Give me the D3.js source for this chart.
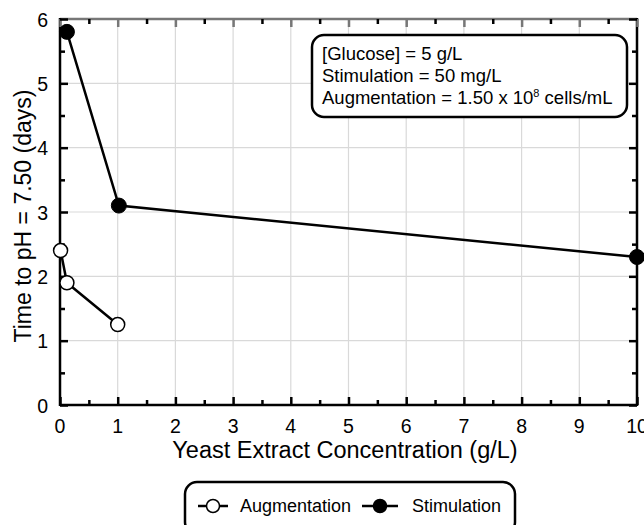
<!DOCTYPE html>
<html><head><meta charset="utf-8">
<script src="https://cdn.jsdelivr.net/npm/d3@7"></script>
<style>body{margin:0;background:#fff}svg{display:block;font-family:"Liberation Sans",Arial,sans-serif}</style>
</head><body>
<svg id="c" width="644" height="525"></svg>
<script>
const stimX = [0.12, 1.02, 10];
const stimY = [5.8, 3.1, 2.3];
const augX = [0.01, 0.12, 1.0];
const augY = [2.4, 1.9, 1.25];
const xTicks = [0,1,2,3,4,5,6,7,8,9,10];
const yTicks = [0,1,2,3,4,5,6];
const infoLines = ["[Glucose] = 5 g/L", "Stimulation = 50 mg/L", "Augmentation = 1.50 x 10"];
const legendNames = ["Augmentation", "Stimulation"];

const svg = d3.select("#c");
const L = 60, R = 637, T = 19, B = 405;
const x = d3.scaleLinear().domain([0,10]).range([L,R]);
const y = d3.scaleLinear().domain([0,6]).range([B,T]);

// gridlines
svg.append("g").selectAll("line").data(xTicks).join("line")
  .attr("x1", d=>x(d)).attr("x2", d=>x(d)).attr("y1", T).attr("y2", B)
  .attr("stroke", "#d9d9d9").attr("stroke-width", 1.2);
svg.append("g").selectAll("line").data(yTicks).join("line")
  .attr("y1", d=>y(d)).attr("y2", d=>y(d)).attr("x1", L).attr("x2", R)
  .attr("stroke", "#d9d9d9").attr("stroke-width", 1.2);

// frame
svg.append("line").attr("x1",L).attr("x2",R).attr("y1",T).attr("y2",T).attr("stroke","#777").attr("stroke-width",2.5);
svg.append("line").attr("x1",L).attr("x2",R).attr("y1",B).attr("y2",B).attr("stroke","#000").attr("stroke-width",2.5);
svg.append("line").attr("x1",L).attr("x2",L).attr("y1",T-1).attr("y2",B+1).attr("stroke","#000").attr("stroke-width",2.5);
svg.append("line").attr("x1",R).attr("x2",R).attr("y1",T-1).attr("y2",B+1).attr("stroke","#000").attr("stroke-width",2.5);

// ticks (inward) via axes
const xMinor = d3.range(0.5, 10, 1);
const yMinor = d3.range(0.5, 6, 1);
function tickG(axis, tr) {
  const g = svg.append("g").attr("transform", tr).call(axis);
  g.select(".domain").remove();
  g.selectAll("line").attr("stroke-width", 2.5);
  return g;
}
tickG(d3.axisTop(x).tickValues(xTicks).tickSize(8).tickFormat(""), `translate(0,${B})`);
tickG(d3.axisTop(x).tickValues(xMinor).tickSize(5).tickFormat(""), `translate(0,${B})`);
tickG(d3.axisBottom(x).tickValues(xTicks).tickSize(8).tickFormat(""), `translate(0,${T})`).selectAll("line").attr("stroke","#777");
tickG(d3.axisBottom(x).tickValues(xMinor).tickSize(5).tickFormat(""), `translate(0,${T})`);
tickG(d3.axisRight(y).tickValues(yTicks).tickSize(8).tickFormat(""), `translate(${L},0)`);
tickG(d3.axisRight(y).tickValues(yMinor).tickSize(5).tickFormat(""), `translate(${L},0)`);
tickG(d3.axisLeft(y).tickValues(yTicks).tickSize(8).tickFormat(""), `translate(${R},0)`);
tickG(d3.axisLeft(y).tickValues(yMinor).tickSize(5).tickFormat(""), `translate(${R},0)`);

// tick labels
svg.append("g").selectAll("text").data(xTicks).join("text")
  .attr("x", d=>x(d)).attr("y", 433).attr("text-anchor","middle")
  .attr("font-size", 19.5).text(d=>d);
svg.append("g").selectAll("text").data(yTicks).join("text")
  .attr("x", L-12).attr("y", d=>y(d)+7.5).attr("text-anchor","end")
  .attr("font-size", 19.5).text(d=>d);

// axis titles
svg.append("text").attr("x", 345).attr("y", 458).attr("text-anchor","middle")
  .attr("font-size", 23.5).text("Yeast Extract Concentration (g/L)");
svg.append("text").attr("transform", `translate(31,216) rotate(-90)`).attr("text-anchor","middle")
  .attr("font-size", 23).text("Time to pH = 7.50 (days)");

// series
const line = d3.line().x(d=>x(d[0])).y(d=>y(d[1]));
const stim = stimX.map((v,i)=>[v, stimY[i]]);
const aug = augX.map((v,i)=>[v, augY[i]]);
svg.append("path").datum(aug).attr("d", line).attr("fill","none").attr("stroke","#000").attr("stroke-width",2.5);
svg.append("path").datum(stim).attr("d", line).attr("fill","none").attr("stroke","#000").attr("stroke-width",2.5);
svg.append("g").selectAll("circle").data(aug).join("circle")
  .attr("cx", d=>x(d[0])).attr("cy", d=>y(d[1])).attr("r", 7)
  .attr("fill","#fff").attr("stroke","#000").attr("stroke-width",1.5);
svg.append("g").selectAll("circle").data(stim).join("circle")
  .attr("cx", d=>x(d[0])).attr("cy", d=>y(d[1])).attr("r", 7.5)
  .attr("fill","#000").attr("stroke","#000").attr("stroke-width",1);

// info box
svg.append("rect").attr("x",312).attr("y",35).attr("width",315).attr("height",82)
  .attr("rx",12).attr("fill","#fff").attr("stroke","#000").attr("stroke-width",2.5);
const info = svg.append("g").attr("font-size", 18.5);
info.append("text").attr("x",322).attr("y",60).text(infoLines[0]);
info.append("text").attr("x",322).attr("y",82).text(infoLines[1]);
const t3 = info.append("text").attr("x",322).attr("y",104).text(infoLines[2]);
t3.append("tspan").attr("font-size", 11).attr("dy", -7).text("8");
t3.append("tspan").attr("dy", 7).text(" cells/mL");

// legend
svg.append("rect").attr("x",185).attr("y",482).attr("width",330).attr("height",52)
  .attr("rx",12).attr("fill","#fff").attr("stroke","#000").attr("stroke-width",2.5);
const lg = svg.append("g");
const legItems = [{n: legendNames[0], fill: "#fff", x0: 198, x1: 228, tx: 240}, {n: legendNames[1], fill: "#000", x0: 362, x1: 398, tx: 412}];
legItems.forEach(d => {
  lg.append("line").attr("x1", d.x0).attr("x2", d.x1).attr("y1", 506).attr("y2", 506)
    .attr("stroke","#000").attr("stroke-width",2.5);
  lg.append("circle").attr("cx", (d.x0+d.x1)/2).attr("cy", 506).attr("r", 6.5)
    .attr("fill", d.fill).attr("stroke","#000").attr("stroke-width",1.5);
  lg.append("text").attr("x", d.tx).attr("y", 512).attr("font-size", 18).text(d.n);
});
</script>
</body></html>
